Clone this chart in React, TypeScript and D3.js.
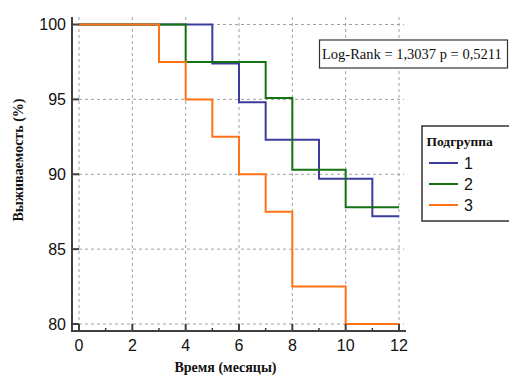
import React from "react";
import * as d3 from "d3";

const groups = ["1", "2", "3"];
const colors = ["#3c3c9c", "#137313", "#ff7216"];
// step points: [time, survival]
const series1: [number, number][] = [[0, 100], [5, 97.4], [6, 94.8], [7, 92.3], [9, 89.7], [11, 87.2], [12, 87.2]];
const series2: [number, number][] = [[0, 100], [4, 97.5], [7, 95.1], [8, 90.3], [10, 87.8], [12, 87.8]];
const series3: [number, number][] = [[0, 100], [3, 97.5], [4, 95], [5, 92.5], [6, 90], [7, 87.5], [8, 82.5], [10, 80], [12, 80]];
const allSeries = [series1, series2, series3];
const xTicks = [0, 2, 4, 6, 8, 10, 12];
const xMinor = [1, 3, 5, 7, 9, 11];
const yTicks = [80, 85, 90, 95, 100];
const statText = "Log-Rank = 1,3037 p = 0,5211";
const legendTitle = "Подгруппа";
const xTitle = "Время (месяцы)";
const yTitle = "Выживаемость (%)";

export default function App() {
  const W = 509, H = 376;
  const x = d3.scaleLinear().domain([0, 12]).range([79, 399]);
  const y = d3.scaleLinear().domain([80, 100]).range([324, 24.5]);
  const axisX = 72, axisY = 331, topY = 17, rightX = 406;
  const line = d3.line<[number, number]>().x(d => x(d[0])).y(d => y(d[1])).curve(d3.curveStepAfter);
  return (
    <svg width={W} height={H} style={{ position: "absolute", left: 0, top: 0 }}>
      <rect width={W} height={H} fill="#fff" />
      {xTicks.map(t => (
        <line key={"gx" + t} x1={x(t)} x2={x(t)} y1={topY} y2={axisY} stroke="#a0a0a0" strokeWidth={1} strokeDasharray="3,3" />
      ))}
      {yTicks.map(t => (
        <line key={"gy" + t} x1={x(0)} x2={404} y1={y(t)} y2={y(t)} stroke="#a0a0a0" strokeWidth={1} strokeDasharray="3,3" />
      ))}
      {allSeries.map((s, i) => (
        <path key={"s" + i} d={line(s) || ""} fill="none" stroke={colors[i]} strokeWidth={2} />
      ))}
      <line x1={axisX} x2={axisX} y1={topY} y2={axisY + 1} stroke="#404040" strokeWidth={2} />
      <line x1={axisX - 1} x2={rightX} y1={axisY} y2={axisY} stroke="#404040" strokeWidth={2} />
      {yTicks.map(t => (
        <g key={"ty" + t}>
          <line x1={axisX} x2={x(0)} y1={y(t)} y2={y(t)} stroke="#404040" strokeWidth={2} />
          <text x={66} y={y(t) + 5.5} textAnchor="end" fontFamily="Liberation Sans, Arial, sans-serif" fontSize={16} fill="#111">{t}</text>
        </g>
      ))}
      {xTicks.map(t => (
        <g key={"tx" + t}>
          <line x1={x(t)} x2={x(t)} y1={axisY} y2={axisY - 7} stroke="#404040" strokeWidth={2} />
          <text x={x(t)} y={351} textAnchor="middle" fontFamily="Liberation Sans, Arial, sans-serif" fontSize={16} fill="#111">{t}</text>
        </g>
      ))}
      {xMinor.map(t => (
        <line key={"mx" + t} x1={x(t)} x2={x(t)} y1={axisY} y2={axisY - 3} stroke="#404040" strokeWidth={1.5} />
      ))}
      <text x={225.5} y={372} textAnchor="middle" fontFamily="Liberation Serif, Times New Roman, serif" fontWeight="bold" fontSize={14} fill="#111">{xTitle}</text>
      <text transform={`translate(23,160) rotate(-90)`} textAnchor="middle" fontFamily="Liberation Serif, Times New Roman, serif" fontWeight="bold" fontSize={14} fill="#111">{yTitle}</text>
      <rect x={319.5} y={40} width={188} height={28} fill="#fff" stroke="#333" strokeWidth={1.2} />
      <text x={322} y={59} fontFamily="Liberation Serif, Times New Roman, serif" fontSize={14.5} fill="#111">{statText}</text>
      <rect x={422} y={126} width={95} height={95} fill="#fff" stroke="#333" strokeWidth={1.5} />
      <text x={426.5} y={146} fontFamily="Liberation Serif, Times New Roman, serif" fontWeight="bold" fontSize={13.5} fill="#111">{legendTitle}</text>
      {groups.map((g, i) => (
        <g key={"lg" + g}>
          <line x1={429} x2={458} y1={163 + i * 21} y2={163 + i * 21} stroke={colors[i]} strokeWidth={2} />
          <text x={464} y={169 + i * 21} fontFamily="Liberation Sans, Arial, sans-serif" fontSize={16} fill="#111">{g}</text>
        </g>
      ))}
    </svg>
  );
}
